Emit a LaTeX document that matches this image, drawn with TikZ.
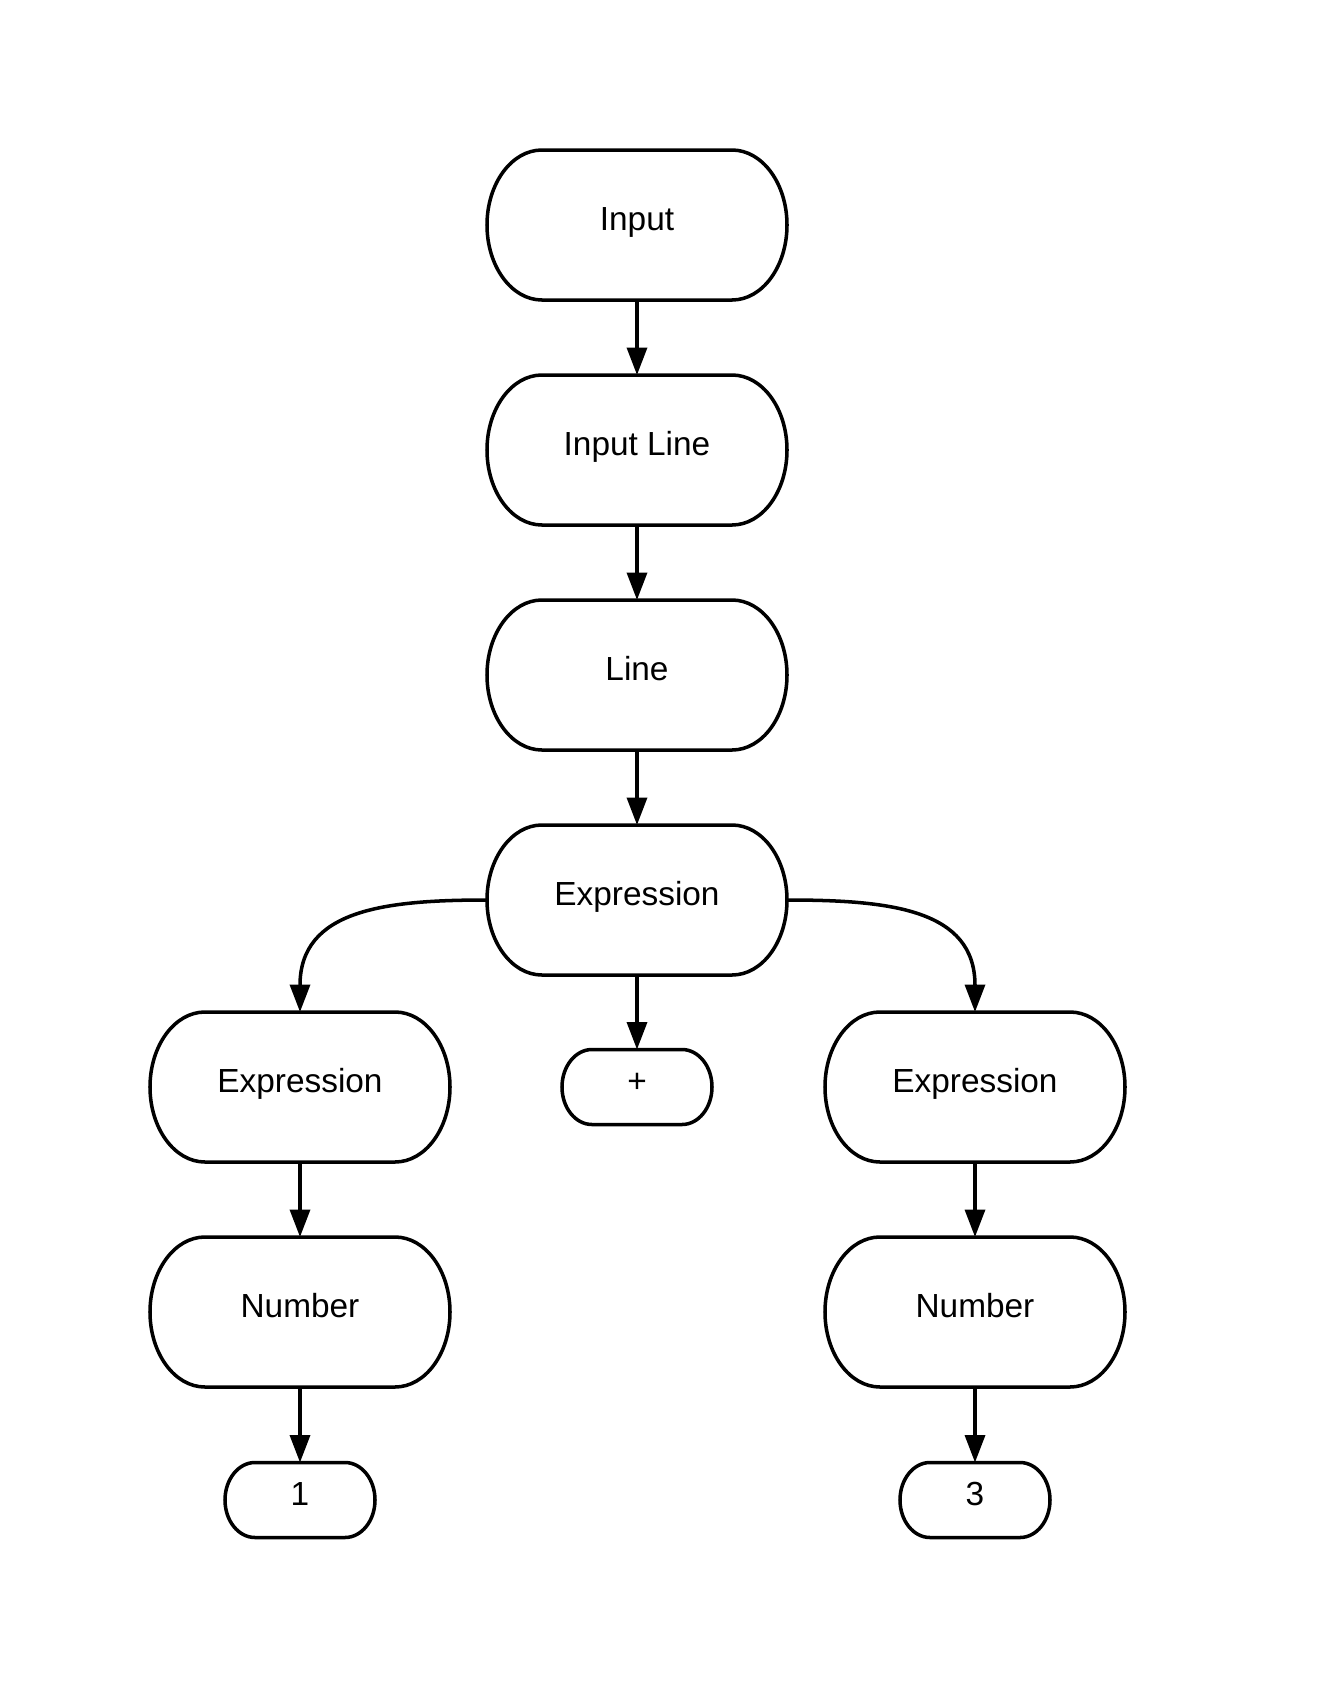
\documentclass[tikz,border=0pt]{standalone}
\usepackage{fontspec}
\setmainfont{Liberation Sans}
\usepackage{tikz}
\usetikzlibrary{positioning,arrows.meta}

\begin{document}
\begin{tikzpicture}[
  term/.style={rectangle,outer sep=0pt,minimum width=6cm,minimum height=3cm,
    font=\fontsize{19}{22}\selectfont,text height=14pt,text depth=8pt},
  leaf/.style={term,minimum width=3cm,minimum height=1.5cm},
  outline/.style={line width=2pt},
  arr/.style={line width=2pt,-{Triangle[length=0.55cm,width=0.4cm]}}]
\useasboundingbox (0,0) rectangle (26.5,-34.02);
\node[term] (in) at (12.74,-4.5) {Input};
\node[term] (inline) at (12.74,-9) {Input Line};
\node[term] (line) at (12.74,-13.5) {Line};
\node[term] (expr) at (12.74,-18) {Expression};
\node[term] (exprl) at (6,-21.74) {Expression};
\node[leaf] (plus) at (12.74,-21.74) {+};
\node[term] (exprr) at (19.5,-21.74) {Expression};
\node[term] (numl) at (6,-26.24) {Number};
\node[term] (numr) at (19.5,-26.24) {Number};
\node[leaf] (one) at (6,-30) {1};
\node[leaf] (three) at (19.5,-30) {3};
% terminator outlines with elliptic ends
\foreach \n/\a/\b in {in/1.1/1.5,inline/1.1/1.5,line/1.1/1.5,expr/1.1/1.5,exprl/1.1/1.5,exprr/1.1/1.5,
    numl/1.1/1.5,numr/1.1/1.5,plus/0.6/0.75,one/0.6/0.75,three/0.6/0.75}
  \draw[outline] ([xshift=\a cm]\n.north west) -- ([xshift=-\a cm]\n.north east)
    arc[start angle=90,end angle=-90,x radius=\a cm,y radius=\b cm]
    -- ([xshift=\a cm]\n.south west)
    arc[start angle=270,end angle=90,x radius=\a cm,y radius=\b cm] -- cycle;
\draw[arr] (in) -- (inline);
\draw[arr] (inline) -- (line);
\draw[arr] (line) -- (expr);
\draw[arr] (expr.west) to[out=180,in=90,looseness=1.2] (exprl.north);
\draw[arr] (expr) -- (plus);
\draw[arr] (expr.east) to[out=0,in=90,looseness=1.2] (exprr.north);
\draw[arr] (exprl) -- (numl);
\draw[arr] (exprr) -- (numr);
\draw[arr] (numl) -- (one);
\draw[arr] (numr) -- (three);
\end{tikzpicture}
\end{document}
